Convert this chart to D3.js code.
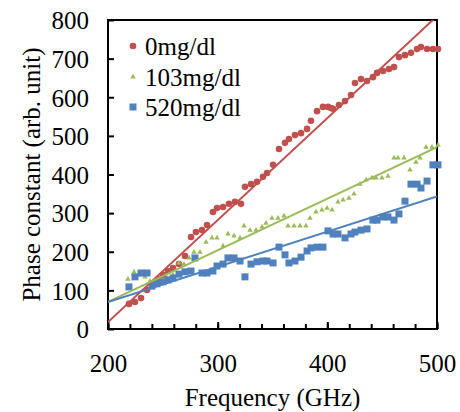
<!DOCTYPE html>
<html><head><meta charset="utf-8">
<script src="https://cdn.jsdelivr.net/npm/d3@7"></script>
<style>body{margin:0;background:#fff}</style>
</head><body>
<svg id="c" width="460" height="412"></svg>
<script>
// ---- data ----
const seriesNames = ["0mg/dl", "103mg/dl", "520mg/dl"];
const seriesColors = ["#C0504D", "#9BBB59", "#4F81BD"];

const freq0 = [219.1,224.6,230.1,235.6,241.0,245.6,250.2,254.7,259.3,264.7,270.2,275.7,280.2,285.7,290.3,295.7,299.4,304.9,310.3,315.8,321.3,324.9,330.4,335.9,341.3,345.0,350.5,355.9,361.4,365.0,370.5,376.0,381.5,385.1,390.6,396.0,400.6,403.3,405.2,410.6,416.1,421.6,425.2,430.7,436.2,441.6,445.3,450.8,456.2,460.8,465.3,470.8,476.3,481.8,485.4,490.9,496.3,500.9];
const phase0 = [65,70,80,101,117,129,140,150,158,168,189,238,251,256,269,303,313,316,324,329,324,368,375,381,394,404,425,466,482,492,502,507,518,539,564,575,575,572,570,580,590,606,637,647,642,652,663,668,673,678,704,709,715,725,730,725,725,725];

const freq103 = [218.2,223.7,229.2,233.7,238.3,243.8,249.2,253.8,259.3,264.7,269.3,273.9,278.4,283.9,289.4,294.8,299.4,304.9,309.4,314.9,320.4,324.0,329.5,335.0,340.4,344.1,349.5,355.0,360.5,364.1,369.6,375.1,380.5,384.2,389.7,395.1,399.7,404.3,409.7,414.3,419.7,424.3,429.8,435.3,440.7,444.4,449.8,455.3,460.8,464.4,469.9,475.4,480.8,484.5,490.0,495.4,500.9];
const phase103 = [129,148,140,135,124,120,125,132,140,171,168,184,199,199,225,236,236,215,246,241,236,267,256,256,264,274,287,287,293,267,267,267,267,287,303,308,313,308,329,334,339,350,375,386,391,391,391,396,443,443,443,412,432,443,471,471,476];

const freq520 = [219.1,224.6,230.1,235.6,240.1,244.7,250.2,254.7,259.3,264.7,270.2,275.7,279.3,285.7,290.3,295.7,299.4,304.9,309.4,314.9,320.4,324.9,330.4,335.9,341.3,345.0,350.5,355.9,361.4,365.0,370.5,376.0,381.5,385.1,390.6,396.0,400.6,405.2,409.7,416.1,421.6,425.2,430.7,436.2,441.6,445.3,450.8,455.3,460.8,465.3,470.8,476.3,481.8,485.4,490.9,496.3,500.9];
const phase520 = [109,135,145,145,111,117,122,127,132,142,148,150,184,145,145,150,163,168,184,184,176,135,168,174,176,176,171,212,192,171,176,186,202,210,212,212,254,246,246,236,246,251,256,259,282,282,290,290,282,298,331,375,375,365,383,425,425];

// linear trendlines (intercept at 200 GHz, slope per GHz)
const trendStart = [18, 70, 70];
const trendSlope = [2.64, 1.337, 0.91];

const xMajorTicks = [200, 300, 400, 500];
const xMinorTicks = d3.range(200, 501, 20);
const yTicks = [0, 100, 200, 300, 400, 500, 600, 700, 800];

// ---- chart ----
const svg = d3.select("#c");
const L = 108, R = 437, T = 20, B = 329;
const x = d3.scaleLinear().domain([200, 500]).range([L, R]);
const y = d3.scaleLinear().domain([0, 800]).range([B, T]);
const font = "'Liberation Serif','Times New Roman',serif";

svg.append("defs").append("clipPath").attr("id", "clip")
  .append("rect").attr("x", L).attr("y", T).attr("width", R - L).attr("height", B - T);

const series = [
  {f: freq0, v: phase0},
  {f: freq103, v: phase103},
  {f: freq520, v: phase520}
];

// frame (drawn first so markers overlap it)
svg.append("rect").attr("x", L).attr("y", T).attr("width", R - L).attr("height", B - T)
  .attr("fill", "none").attr("stroke", "#000").attr("stroke-width", 2);

// x axis minor ticks (inward)
const xMinor = svg.append("g").attr("transform", `translate(0,${B})`)
  .call(d3.axisBottom(x).tickValues(xMinorTicks).tickSize(-5).tickFormat(""));
xMinor.select(".domain").remove();
xMinor.selectAll("line").attr("stroke", "#000").attr("stroke-width", 2);

// x axis major ticks + labels
const xMajor = svg.append("g").attr("transform", `translate(0,${B})`)
  .call(d3.axisBottom(x).tickValues(xMajorTicks).tickSizeInner(-7).tickSizeOuter(0).tickPadding(0).tickFormat(d3.format("d")));
xMajor.select(".domain").remove();
xMajor.selectAll("line").attr("stroke", "#000").attr("stroke-width", 2);
xMajor.selectAll("text").attr("y", 43).attr("dy", 0)
  .style("font-family", font).style("font-size", "25px").attr("fill", "#000");

// y axis
const yAx = svg.append("g").attr("transform", `translate(${L},0)`)
  .call(d3.axisLeft(y).tickValues(yTicks).tickSizeInner(-6).tickSizeOuter(0).tickPadding(0).tickFormat(d3.format("d")));
yAx.select(".domain").remove();
yAx.selectAll("line").attr("stroke", "#000").attr("stroke-width", 2);
yAx.selectAll("text").attr("x", -19).attr("dy", "0.35em")
  .style("font-family", font).style("font-size", "25px").attr("fill", "#000");

// markers
function drawMarker(g, k, cx, cy) {
  const col = seriesColors[k];
  if (k === 0) {
    g.append("circle").attr("cx", cx).attr("cy", cy).attr("r", 3.3).attr("fill", col);
  } else if (k === 1) {
    g.append("path").attr("d", d3.symbol(d3.symbolTriangle, 13)())
      .attr("transform", `translate(${cx},${cy})`).attr("fill", col);
  } else {
    g.append("rect").attr("x", cx - 3.5).attr("y", cy - 3.5).attr("width", 7).attr("height", 7).attr("fill", col);
  }
}

series.forEach((s, k) => {
  const g = svg.append("g");
  s.f.forEach((f, i) => drawMarker(g, k, x(s.f[i]), y(s.v[i])));
});

// trendlines (clipped to plot area)
const plot = svg.append("g").attr("clip-path", "url(#clip)");
series.forEach((s, k) => {
  const pts = [200, 500].map(f => [x(f), y(trendStart[k] + trendSlope[k] * (f - 200))]);
  plot.append("path").attr("d", d3.line()(pts))
    .attr("stroke", seriesColors[k]).attr("stroke-width", 2).attr("fill", "none");
});

// axis titles
svg.append("text").attr("x", (L + R) / 2).attr("y", 406).attr("text-anchor", "middle")
  .style("font-family", font).style("font-size", "25px").text("Frequency (GHz)");
svg.append("text").attr("transform", `translate(40,${(T + B) / 2}) rotate(-90)`)
  .attr("text-anchor", "middle")
  .style("font-family", font).style("font-size", "25px").text("Phase constant (arb. unit)");

// legend
const legY = [46, 77, 107];
seriesNames.forEach((name, k) => {
  const g = svg.append("g");
  drawMarker(g, k, 133, legY[k]);
  g.append("text").attr("x", 145).attr("y", legY[k] + 9)
    .style("font-family", font).style("font-size", "25px").text(name);
});
</script>
</body></html>
